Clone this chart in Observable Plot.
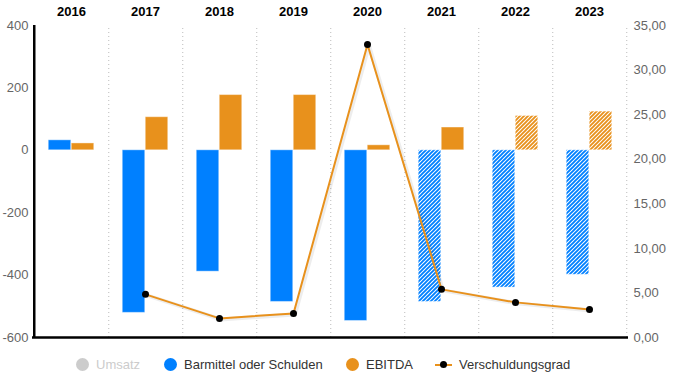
<!DOCTYPE html>
<html><head><meta charset="utf-8">
<script src="https://cdn.jsdelivr.net/npm/d3@7"></script>
<script src="https://cdn.jsdelivr.net/npm/@observablehq/plot@0.6"></script>
<style>
body{margin:0;background:#fff;font-family:"Liberation Sans",Arial,sans-serif;}
#chart{position:relative;width:675px;height:380px;overflow:hidden;}
#chart svg{display:block;}
.legend{position:absolute;top:355px;left:0;width:675px;height:18px;font-size:13px;color:#333;}
.item{position:absolute;top:0;height:18px;display:flex;align-items:center;white-space:nowrap;}
.dot{width:13px;height:13px;border-radius:50%;display:inline-block;}
.txt{margin-left:7px;}
.lm{position:relative;width:17px;height:13px;display:inline-block;}
.lm .ln{position:absolute;left:0;top:6px;width:17px;height:2px;background:#e8911c;}
.lm .pt{position:absolute;left:5px;top:3px;width:7px;height:7px;border-radius:50%;background:#000;}
</style>
</head><body>
<div id="chart"></div>
<script>
const years = ["2016","2017","2018","2019","2020","2021","2022","2023"];
const barmittel = [32, -521, -389, -486, -547, -486, -440, -399];
const ebitda = [22, 106, 177, 177, 16, 73, 110, 124];
const verschuldungsgrad = [null, 4.84, 2.14, 2.70, 32.86, 5.40, 3.94, 3.15];
const barmittelPrognose = [false, false, false, false, false, true, true, true];
const ebitdaPrognose = [false, false, false, false, false, false, true, true];
const leftTicks = [-600, -400, -200, 0, 200, 400];
const rightTicks = [0, 5, 10, 15, 20, 25, 30, 35];
const legendLabels = ["Umsatz", "Barmittel oder Schulden", "EBITDA", "Verschuldungsgrad"];

const blue = "#0080ff", orange = "#e8911c";
const yMin = -600, yMax = 400, rMin = 0, rMax = 35;
const toLeft = v => yMin + (v - rMin) / (rMax - rMin) * (yMax - yMin);
const fromLeft = y => rMin + (y - yMin) / (yMax - yMin) * (rMax - rMin);

const rows = years.map((year, i) => ({
  year, barmittel: barmittel[i], ebitda: ebitda[i], vg: verschuldungsgrad[i],
  bp: barmittelPrognose[i], ep: ebitdaPrognose[i]
}));
const lineRows = rows.filter(d => d.vg != null).map(d => ({year: d.year, y: toLeft(d.vg)}));

const W = 675, H = 345, mL = 32, mR = 47, mT = 25, mB = 8;
const bw = (W - mL - mR) / years.length;
const inA = bw / 2 - 23, inB = bw / 2;

const barOpts = (field, fill, left) => ({
  x: "year", y: field, fill,
  insetLeft: left ? inA : inB, insetRight: left ? inB : inA,
  stroke: "#fff", strokeOpacity: 0.4, strokeWidth: 1
});

const plot = Plot.plot({
  width: W, height: H,
  marginLeft: mL, marginRight: mR, marginTop: mT, marginBottom: mB,
  style: {fontFamily: '"Liberation Sans", Arial, sans-serif', fontSize: "13px", background: "transparent", overflow: "visible"},
  x: {domain: years, padding: 0, axis: null, label: null},
  y: {domain: [yMin, yMax], axis: null, label: null},
  marks: [
    Plot.ruleX(years, {x: d => d, dx: bw / 2, y1: yMin, y2: yMax, stroke: "#bbb", strokeDasharray: "1,3", strokeWidth: 1}),
    Plot.barY(rows.filter(d => !d.bp), barOpts("barmittel", blue, true)),
    Plot.barY(rows.filter(d => d.bp), barOpts("barmittel", "url(#hatchBlue)", true)),
    Plot.barY(rows.filter(d => !d.ep), barOpts("ebitda", orange, false)),
    Plot.barY(rows.filter(d => d.ep), barOpts("ebitda", "url(#hatchOrange)", false)),
    Plot.axisX({anchor: "top", label: null, tickSize: 0, tickPadding: 10, fontWeight: "bold", fill: "#000", fontSize: 13}),
    Plot.axisY({anchor: "left", label: null, ticks: leftTicks, tickSize: 0, tickPadding: 4, tickFormat: d => String(d), fill: "#666", fontSize: 13}),
    Plot.axisY({anchor: "right", label: null, ticks: rightTicks.map(toLeft), tickSize: 0, tickPadding: 5,
      tickFormat: d => fromLeft(d).toFixed(2).replace(".", ","), fill: "#666", fontSize: 13}),
    Plot.ruleY([yMin], {stroke: "#000", strokeWidth: 2.5}),
    Plot.ruleX([years[0]], {dx: -bw / 2, y1: yMin, y2: yMax, stroke: "#000", strokeWidth: 2.5}),
    Plot.line(lineRows, {x: "year", y: "y", stroke: "#000", strokeOpacity: 0.07, strokeWidth: 4, dx: 1.5, dy: 1}),
    Plot.line(lineRows, {x: "year", y: "y", stroke: orange, strokeWidth: 2}),
    Plot.dot(lineRows, {x: "year", y: "y", r: 3.5, fill: "#000"})
  ]
});

d3.select(plot).insert("defs", ":first-child").html(`
  <pattern id="hatchBlue" patternUnits="userSpaceOnUse" width="4" height="4">
    <rect width="4" height="4" fill="#fff"/>
    <path d="M0 4 L4 0 M-1 1 L1 -1 M3 5 L5 3" stroke="${blue}" stroke-width="1.9"/>
  </pattern>
  <pattern id="hatchOrange" patternUnits="userSpaceOnUse" width="4" height="4">
    <rect width="4" height="4" fill="#fff"/>
    <path d="M0 4 L4 0 M-1 1 L1 -1 M3 5 L5 3" stroke="${orange}" stroke-width="1.9"/>
  </pattern>`);

const chart = document.getElementById("chart");
chart.appendChild(plot);

const legend = document.createElement("div");
legend.className = "legend";
const lefts = [76, 164, 346, 435];
legendLabels.forEach((label, i) => {
  const item = document.createElement("div");
  item.className = "item";
  item.style.left = lefts[i] + "px";
  let sym;
  if (i === 3) {
    sym = `<span class="lm"><span class="ln"></span><span class="pt"></span></span>`;
  } else {
    const c = i === 0 ? "#ccc" : i === 1 ? blue : orange;
    sym = `<span class="dot" style="background:${c}"></span>`;
  }
  item.innerHTML = sym + `<span class="txt" style="color:${i === 0 ? '#ccc' : '#333'}">${label}</span>`;
  legend.appendChild(item);
});
chart.appendChild(legend);
</script>
</body></html>
